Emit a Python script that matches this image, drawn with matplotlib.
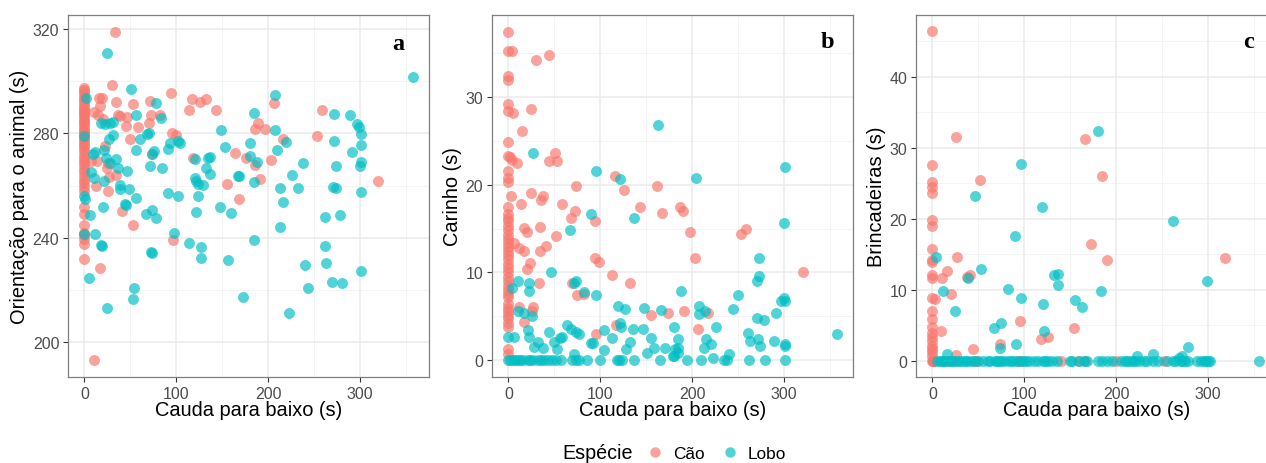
import numpy as np
import matplotlib.pyplot as plt
from matplotlib.lines import Line2D

plt.rcParams['font.family'] = ['Liberation Sans', 'DejaVu Sans']

species = ["Cão", "Lobo"]
colors = {"Cão": "#F8766D", "Lobo": "#00BFC4"}
xlabel = "Cauda para baixo (s)"
ylabels = ["Orientação para o animal (s)", "Carinho (s)", "Brincadeiras (s)"]
letters = ["a", "b", "c"]

# points as (cauda para baixo, y) pairs
# panel a: Orientação para o animal
a_cao = [(0, 297.4), (0, 296.5), (0, 295.8), (0, 294.8), (0, 293.6), (0, 292.8), (0, 291.5),
         (0, 290.6), (0, 289.8), (0, 289.0), (0, 288.2), (0, 287.4), (0, 286.5), (0, 285.6),
         (0, 284.8), (0, 284.0), (0, 283.1), (0, 282.2), (0, 281.4), (0, 280.5), (0, 279.6),
         (0, 278.8), (0, 277.9), (0, 277.0), (0, 276.1), (0, 275.2), (0, 274.0), (0, 272.8),
         (0, 271.5), (0, 270.2), (0, 269.0), (0, 267.8), (0, 266.4), (0, 265.0), (0, 263.6),
         (0, 262.2), (0, 260.8), (0, 259.4), (0, 258.0), (0, 251.7), (0, 249.0), (0, 245.0),
         (0, 242.0), (0, 241.0), (0, 239.5), (0, 237.7), (0, 232.0),
         (33.5, 318.7), (30, 298.4), (10.9, 193.3), (16.4, 228.6), (52.7, 245), (41, 250.2),
         (25.5, 258), (12.7, 259.7), (34.5, 264.1), (26.5, 263.4), (24.4, 266.7), (25.5, 268.8),
         (13.5, 269.5), (22.9, 275.2), (49.8, 278), (58.5, 282.4), (44.7, 282.8), (70.2, 284),
         (72.7, 287.2), (82.5, 287), (46.2, 286.2), (36.4, 287), (39, 286.5), (20, 285.3),
         (14.5, 287.2), (10.9, 288), (17, 290.4), (19, 293.6), (16, 293.6), (34.5, 292),
         (52.7, 291.3), (71.6, 292.5), (94.5, 295.6), (95.6, 280.3), (99.3, 279.4), (96.4, 239),
         (113.8, 288.9), (117, 293), (126, 292), (132.7, 293), (143.6, 288.8), (118.2, 270.5),
         (163.6, 272.6), (155.3, 260.6), (168, 254.8), (175.3, 270.5), (185.5, 281.5),
         (185.5, 268), (73.8, 272), (7.3, 269.5), (205.8, 291.7), (188.8, 284.1), (196, 281.5),
         (215.6, 277.7), (203.3, 269.8), (191.3, 262.5), (258.2, 288.8), (252.8, 279),
         (319, 261.8)]
a_lobo = [(24.7, 310.7), (50.9, 297.1), (78.2, 291.7), (82.9, 285.7), (56.4, 286.9),
          (27.3, 284.1), (22.9, 283.5), (18.5, 284), (30.9, 284.5), (30.9, 279.4), (26.5, 277.7),
          (60, 277.7), (70.2, 280), (68, 279.8), (56.4, 273.5), (75.3, 273.3), (73.8, 272),
          (90.9, 273.9), (93.5, 276.4), (103.6, 276.4), (101.8, 277), (149, 281.1),
          (152.7, 274.9), (120, 270.1), (134.5, 270.7), (137, 271), (132.7, 266.9),
          (136.7, 264.4), (120, 262.9), (121.8, 261.8), (123.6, 260.6), (129, 260.2),
          (167.3, 263.7), (168.4, 263.5), (123.6, 256.1), (147.3, 251.9), (159.3, 249.4),
          (121.8, 249.8), (172, 217.4), (156.4, 231.4), (127.3, 236.4), (127.3, 232.2),
          (113.5, 238.1), (97.1, 241.9), (1.8, 293.6), (0, 279), (0, 256), (0.5, 255),
          (0, 241.5), (9, 272), (10, 263), (7.3, 265), (12, 273), (21, 273.5), (23, 270.5),
          (21.8, 261.8), (27.3, 268.8), (34.5, 270.2), (36.4, 266.7), (46.2, 265.6),
          (38.2, 260.1), (38.2, 258.5), (49, 258.7), (56.4, 255.1), (44.7, 252.5), (43.6, 253),
          (20.7, 251.9), (6.5, 248.7), (67.3, 249.1), (73, 250.5), (77.5, 247.6), (71, 267.3),
          (84.4, 266.7), (90.9, 257.1), (101.8, 255.9), (12, 241.3), (17.5, 237.3),
          (19.3, 236.8), (72.7, 234.4), (73.8, 234.2), (4.7, 224.6), (53.8, 220.8),
          (52.7, 216.5), (24.4, 213.3),
          (357, 301.5), (206.9, 294.5), (184, 287.7), (272, 287.5), (289, 287), (296.2, 283.4),
          (298.7, 282.4), (300.5, 279.6), (206.9, 281.3), (180.5, 276.4), (219.2, 276.7),
          (210, 273.5), (272, 277), (300.5, 275.4), (290.8, 272.9), (180.5, 271.4),
          (187.7, 269.2), (237.3, 268.7), (273.4, 267.5), (300.5, 269.1), (299.8, 267.3),
          (226.2, 264), (184.8, 261.2), (213, 259), (232.9, 259), (270.2, 259.3), (273.4, 258.9),
          (300.5, 257.4), (215.6, 253.8), (261.9, 247.9), (278.1, 248.8), (212.3, 244),
          (184, 239.2), (261.2, 236.8), (262.6, 230.3), (240.1, 229.4), (300.5, 227.2),
          (269.8, 223.1), (280, 222.5), (243, 220.8), (223.1, 211.3)]

# panel b: Carinho
b_cao = [(0, 37.35), (0, 35.2), (0, 32.4), (0, 31.9), (0, 29.2), (0, 28.4), (0, 24.8),
         (0, 23.3), (0, 21.6), (0, 20.7), (0, 20.3), (0, 17.5), (0, 16.7), (0, 16.2), (0, 15.8),
         (0, 15.3), (0, 14.8), (0, 14.3), (0, 13.8), (0, 13.3), (0, 12.9), (0, 12.4), (0, 12.0),
         (0, 11.5), (0, 11.0), (0, 10.5), (0, 10.0), (0, 9.5), (0, 9.0), (0, 8.5), (0, 8.0),
         (0, 7.6), (0, 7.2), (0, 6.4), (0, 6.0), (0, 5.6), (0, 5.2), (0, 4.8), (0, 4.3),
         (0, 3.8), (0, 1.3), (0, 0.76),
         (3.6, 35.2), (29.9, 34.2), (43.6, 34.7), (4.7, 28.2), (24.5, 28.6), (14.4, 26.1),
         (2, 23.1), (4, 22.8), (9.4, 22.4), (50.4, 23.6), (44.3, 22.7), (53.3, 22.7),
         (2.9, 18.7), (13.7, 17.8), (24.5, 19), (35.3, 18.2), (37.8, 18.7), (58, 17.8),
         (67.7, 16.2), (72, 17), (17.3, 15.1), (19.8, 14.6), (34.2, 15.2), (52.2, 14.1),
         (73, 19.8), (116.3, 21), (126, 19.4), (142.6, 17.4), (162, 19.8), (166.7, 16.8),
         (94, 15.8), (40.7, 13), (34.6, 12.4), (17.3, 12.4), (11.9, 12.8), (6.5, 13.3),
         (23.4, 11.1), (19.8, 10.4), (94.7, 11.6), (98.3, 11.2), (112.7, 9.7), (131.8, 8.8),
         (33.5, 8.8), (69.5, 8.8), (74.2, 7.4), (82, 7.6), (11.9, 6.1), (26.3, 6.1),
         (25.6, 5.6), (16.6, 4.4), (154.8, 5.2), (173.9, 5.4), (117.4, 4), (95.8, 3),
         (186.3, 17.5), (189.5, 17), (197.8, 14.6), (202.5, 11.6), (253.2, 14.4),
         (258.7, 15), (320, 10), (190.6, 5.6), (217, 5.4), (206.1, 3.6)]
b_lobo = [(163.1, 26.8), (27, 23.6), (95.8, 21.6), (121.7, 20.6), (136.1, 16.2), (89.3, 16.6),
          (67, 14.8), (46.1, 10), (73.8, 9), (71.3, 8.8), (95.8, 7.4), (82, 7.8), (10.8, 9),
          (22.7, 8.8), (22.7, 7.85), (3.6, 8.2), (10, 5.6), (16.6, 5.4), (25.2, 5),
          (118.8, 6.2), (127, 5.8), (147.6, 6), (165.6, 5.7), (0, 2.6), (5.8, 2.7), (20.9, 3.5),
          (22.7, 2.65), (27.4, 1.5), (31.7, 2.1), (37.8, 1.4), (44.3, 3.2), (49.7, 2.1),
          (53.3, 1.3), (56.2, 2.5), (58.7, 2.7), (64, 4), (67.7, 3.6), (73.1, 3.2), (76.7, 3),
          (71.3, 0.76), (89.3, 2), (92.2, 2), (103.7, 3.4), (103.7, 1.2), (112.7, 2.5),
          (121.7, 4.2), (122.4, 3.8), (128.2, 1.3), (131.8, 2.1), (135.4, 3.6), (146.2, 3.6),
          (150.5, 0.8), (155, 2.5), (158.4, 1.4), (170.3, 1.4), (179.3, 0.45), (181.1, 1.3),
          (300.9, 22), (204.3, 20.8), (299.8, 15.6), (273, 11.6), (273, 9.6), (270.2, 9),
          (187.7, 7.85), (250.3, 7.4), (296.6, 6.8), (299.8, 7.1), (300.9, 6.8), (291.1, 5.4),
          (243.8, 5.8), (206.9, 6.2), (207.6, 5.3), (213.4, 5.6), (270.2, 4.8), (278.5, 4.6),
          (180.5, 3.8), (226, 3.8), (261.1, 3.1), (262.9, 2.2), (272, 2.4), (273.8, 1.6),
          (289, 2.2), (300.9, 1.8), (300.9, 1.6), (357, 3), (184, 2.4), (184, 1.4), (184, 0.8),
          (180.5, 0.5), (214.8, 2.4), (212.3, 1.4), (220.3, 1.8), (240.5, 0.7), (223.1, 0.3),
          (0, 0), (2.2, 0), (4.7, 0), (7.2, 0), (10, 0), (12.9, 0), (15.5, 0), (20.9, 0),
          (23.8, 0), (26.3, 0), (31.7, 0), (35.3, 0), (38.9, 0), (42.5, 0), (47.9, 0),
          (51.5, 0), (56.9, 0), (69.5, 0), (73.1, 0), (76.7, 0), (85.7, 0), (100.1, 0),
          (118.1, 0), (119.9, 0), (123.5, 0), (136.1, 0), (164.9, 0), (194.2, 0), (209.8, 0),
          (234, 0), (237.6, 0), (262.2, 0), (279.2, 0), (300.9, 0)]

# panel c: Brincadeiras
c_cao = [(0, 46.4), (0, 27.6), (0, 25.2), (0, 24.4), (0, 23.6), (0, 19.8), (0, 19),
         (0, 15.7), (0, 14.2), (0, 13.9), (0, 12.1), (0, 11.6), (0, 8.9), (0, 7), (0, 5.9),
         (0, 4.8), (0, 3.9), (0, 3.3), (0, 2.8), (0, 2.1), (0, 1.6), (0, 1.2), (0, 0.7),
         (0, 0), (0.5, 0), (1, 0), (1.5, 0),
         (25.2, 31.5), (166.3, 31.2), (52.2, 25.4), (172.8, 16.4), (26.3, 14.6), (16.2, 12.6),
         (10.8, 11.6), (41.4, 12), (38, 11.8), (3, 8.7), (20.5, 9.4), (9, 4.2), (95.4, 5.6),
         (154, 4.6), (118.1, 3.1), (126, 3.4), (73.1, 2.3), (43.9, 1.6), (25.2, 0.85),
         (184.9, 26), (189.9, 14.2), (318.8, 14.4),
         (18, 0), (46.8, 0), (48.6, 0), (93.6, 0), (97.2, 0), (140.4, 0), (158.4, 0),
         (165.6, 0), (200, 0), (251.5, 0)]
c_lobo = [(180.2, 32.4), (261.2, 19.7), (183.1, 9.8), (298.3, 11.2), (278.1, 1.9),
          (239.6, 1), (222.3, 0.7), (272, 0.7), (268.4, 0.4), (354.8, 0), (96.1, 27.7),
          (46.1, 23.2), (118.8, 21.6), (89.3, 17.6), (3.6, 14.6), (52.9, 12.9), (38.5, 11.7),
          (132.5, 12.1), (136.1, 12.2), (136.1, 10.6), (11.5, 9.8), (82.1, 10.1), (96.1, 8.8),
          (120.6, 8), (154.8, 8.6), (163.1, 7.5), (24.5, 7), (67.3, 4.6), (74.9, 5.3),
          (121.7, 4.2), (91.1, 2.3), (73.8, 1.8), (16.2, 0.9),
          (5, 0), (8, 0), (10, 0), (12, 0), (14, 0), (17, 0), (20, 0), (22, 0), (25, 0),
          (28, 0), (30, 0), (33, 0), (36, 0), (38, 0), (42, 0), (45, 0), (50, 0), (55, 0),
          (60, 0), (63, 0), (68, 0), (70, 0), (72, 0), (75, 0), (78, 0), (82, 0), (85, 0),
          (88, 0), (92, 0), (95, 0), (98, 0), (102, 0), (105, 0), (110, 0), (115, 0),
          (120, 0), (123, 0), (126, 0), (130, 0), (135, 0), (150, 0), (152, 0), (160, 0),
          (165, 0), (168, 0), (180, 0), (185, 0), (190, 0), (195, 0), (205, 0), (210, 0),
          (212, 0), (215, 0), (218, 0), (220, 0), (225, 0), (230, 0), (233, 0), (240, 0),
          (245, 0), (255, 0), (262, 0), (265, 0), (270, 0), (272, 0), (275, 0), (278, 0),
          (288, 0), (292, 0), (295, 0), (298, 0), (300, 0), (302, 0)]

panels = [{"Cão": a_cao, "Lobo": a_lobo},
          {"Cão": b_cao, "Lobo": b_lobo},
          {"Cão": c_cao, "Lobo": c_lobo}]
ylims = [(186.7, 325.3), (-1.9, 39.3), (-2.3, 48.7)]
yticks = [[200, 240, 280, 320], [0, 10, 20, 30], [0, 10, 20, 30, 40]]
yminor = [[220, 260, 300], [5, 15, 25, 35], [5, 15, 25, 35, 45]]
xticks = [0, 100, 200, 300]
xminor = [50, 150, 250, 350]

W, H = 1266, 464
fig = plt.figure(figsize=(W / 100, H / 100), dpi=100)
lefts = [68, 492, 916]
ylab_x = [20, 453, 877]
letter_pos = [(398, 45), (827, 43), (1248, 42)]

for i, p in enumerate(panels):
    ax = fig.add_axes([lefts[i] / W, 1 - 378 / H, 361 / W, 362 / H])
    for k in yminor[i]:
        ax.axhline(k, color="#F2F2F2", lw=0.6, zorder=0)
    for k in xminor:
        ax.axvline(k, color="#F2F2F2", lw=0.6, zorder=0)
    for k in yticks[i]:
        ax.axhline(k, color="#EBEBEB", lw=1.1, zorder=0)
    for k in xticks:
        ax.axvline(k, color="#EBEBEB", lw=1.1, zorder=0)
    for sp in species:
        xs, ys = zip(*p[sp])
        ax.scatter(xs, ys, s=62, color=colors[sp], alpha=0.68, linewidths=0, zorder=3)
    ax.set_xlim(-17.9, 374.9)
    ax.set_ylim(*ylims[i])
    ax.set_xticks(xticks)
    ax.set_yticks(yticks[i])
    ax.tick_params(length=3.8, width=0.8, color="#333333", labelcolor="#4D4D4D",
                   labelsize=11.5, pad=2.5)
    for s in ax.spines.values():
        s.set_color("#7F7F7F")
        s.set_linewidth(0.9)
    ax.set_xlabel(xlabel, fontsize=14.4)
    ax.xaxis.set_label_coords(0.5, -(411 - 378) / 362)
    ax.xaxis.label.set_va("center")
    ax.set_ylabel(ylabels[i], fontsize=14.4)
    ax.yaxis.set_label_coords((ylab_x[i] - lefts[i]) / 361, 0.5)
    ax.yaxis.label.set_va("center")
    lx, ly = letter_pos[i]
    fig.text(lx / W, 1 - ly / H, letters[i], family="Liberation Serif", weight="bold",
             fontsize=17.5, ha="center", va="center")

# legend at the bottom
fig.text(562 / W, 1 - 454 / H, "Espécie", fontsize=14.2, ha="left", va="center")
handles = [Line2D([], [], marker="o", ls="", markersize=7.5, markeredgewidth=0,
                  color=colors[sp], alpha=0.68) for sp in species]
fig.legend(handles, species, loc="center left", bbox_to_anchor=(646 / W, 1 - 454 / H),
           ncol=2, frameon=False, fontsize=12.4, borderpad=0, handlelength=1.0,
           handletextpad=0.55, columnspacing=0.98, borderaxespad=0)

fig.savefig("out.png", dpi=100)
